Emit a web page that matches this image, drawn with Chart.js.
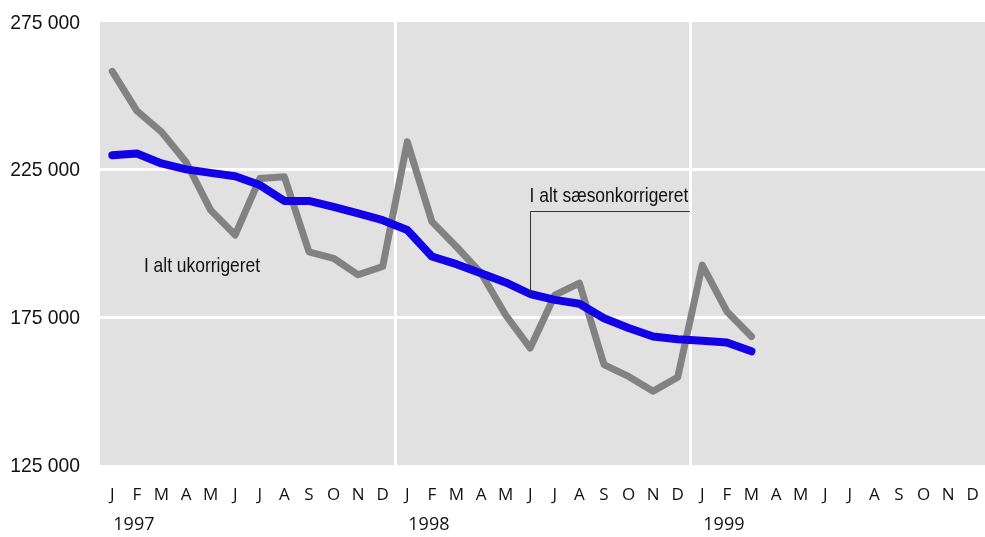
<!DOCTYPE html>
<html>
<head>
<meta charset="utf-8">
<script src="https://cdn.jsdelivr.net/npm/chart.js@4/dist/chart.umd.min.js"></script>
<style>
  html, body { margin: 0; padding: 0; background: #ffffff; }
  canvas { display: block; }
</style>
</head>
<body>
<canvas id="c" width="985" height="537"></canvas>
<script>
// ---- data ----
const months = ['J','F','M','A','M','J','J','A','S','O','N','D',
                'J','F','M','A','M','J','J','A','S','O','N','D',
                'J','F','M','A','M','J','J','A','S','O','N','D'];
const years = ['1997', '1998', '1999'];
const ukorrigeret = [258300, 244900, 237800, 227600, 211300, 202900, 222000, 222600, 197200, 195000, 189400, 192200,
                     234400, 207400, 198900, 190000, 175800, 164600, 182500, 186600, 159000, 155000, 150000, 154700,
                     192700, 177000, 168500];
const saesonkorrigeret = [229900, 230500, 227100, 225100, 223900, 222800, 219800, 214400, 214400, 212400, 210200, 207900,
                          204600, 195600, 193000, 189900, 186800, 182900, 180900, 179600, 174700, 171400, 168500, 167600,
                          167100, 166500, 163500];
const yTicks = [125000, 175000, 225000, 275000];
const labelUkorr = 'I alt ukorrigeret';
const labelSaeson = 'I alt sæsonkorrigeret';

const SANS = "'Liberation Sans', Arial, sans-serif";
const HUMAN = "'Open Sans', 'Noto Sans', 'DejaVu Sans', sans-serif";

function fmt(v) {
  return String(v).replace(/\B(?=(\d{3})+(?!\d))/g, ' ');
}

// draw condensed text (narrow face emulated by horizontal scaling)
function narrowText(ctx, text, x, y, size, sx, align, baseline) {
  ctx.save();
  ctx.translate(x, y);
  ctx.scale(sx, 1);
  ctx.font = size + 'px ' + SANS;
  ctx.textAlign = align;
  ctx.textBaseline = baseline;
  ctx.fillText(text, 0, 0);
  ctx.restore();
}

const bgPlugin = {
  id: 'plotBg',
  beforeDraw(chart) {
    const a = chart.chartArea, ctx = chart.ctx;
    ctx.save();
    ctx.fillStyle = '#e1e1e1';
    ctx.fillRect(a.left, a.top, a.right - a.left, a.bottom - a.top);
    ctx.restore();
  }
};

const annoPlugin = {
  id: 'annos',
  afterDatasetsDraw(chart) {
    const ctx = chart.ctx, xs = chart.scales.x, ys = chart.scales.y;
    ctx.save();
    // leader line for seasonally adjusted series
    const lx = Math.round(xs.getPixelForValue(17)) + 0.5;
    const ly0 = ys.getPixelForValue(saesonkorrigeret[17]);
    const ly1 = Math.round(ys.getPixelForValue(211000)) + 0.5;
    const rx = (xs.getPixelForValue(23) + xs.getPixelForValue(24)) / 2;
    ctx.strokeStyle = '#333';
    ctx.lineWidth = 1;
    ctx.beginPath();
    ctx.moveTo(lx, ly0);
    ctx.lineTo(lx, ly1);
    ctx.lineTo(rx, ly1);
    ctx.stroke();
    ctx.fillStyle = '#111';
    narrowText(ctx, labelSaeson, lx - 1, ly1 - 10, 21, 0.83, 'left', 'alphabetic');
    narrowText(ctx, labelUkorr, xs.getPixelForValue(1) + 7, ys.getPixelForValue(190400), 21, 0.83, 'left', 'alphabetic');
    ctx.restore();
  },
  afterDraw(chart) {
    const ctx = chart.ctx, xs = chart.scales.x, ys = chart.scales.y;
    ctx.save();
    ctx.fillStyle = '#111';
    // y tick labels
    yTicks.forEach(v => {
      narrowText(ctx, fmt(v), 80, ys.getPixelForValue(v) + 1, 21, 0.92, 'right', 'middle');
    });
    // year labels
    ctx.font = "18px " + HUMAN;
    ctx.textAlign = 'left';
    ctx.textBaseline = 'middle';
    years.forEach((y, i) => {
      ctx.fillText(y, xs.getPixelForValue(i * 12) + 1, 525);
    });
    ctx.restore();
  }
};

new Chart(document.getElementById('c'), {
  type: 'line',
  data: {
    labels: months,
    datasets: [
      {
        label: labelUkorr,
        data: ukorrigeret,
        borderColor: '#828282',
        borderWidth: 7,
        pointRadius: 0,
        tension: 0,
        borderCapStyle: 'round',
        borderJoinStyle: 'round',
        order: 1
      },
      {
        label: labelSaeson,
        data: saesonkorrigeret,
        borderColor: '#1400e6',
        borderWidth: 8,
        pointRadius: 0,
        tension: 0,
        borderCapStyle: 'round',
        borderJoinStyle: 'round',
        order: 0
      }
    ]
  },
  options: {
    responsive: false,
    devicePixelRatio: 1,
    animation: false,
    layout: { padding: { top: 22, right: 0, left: 0, bottom: 0 } },
    plugins: {
      legend: { display: false },
      tooltip: { enabled: false },
      title: { display: false }
    },
    scales: {
      x: {
        offset: true,
        grid: {
          offset: true,
          drawTicks: false,
          lineWidth: 3,
          color: (c) => (c.index === 12 || c.index === 24) ? '#ffffff' : 'rgba(0,0,0,0)'
        },
        border: { display: false },
        ticks: {
          autoSkip: false,
          maxRotation: 0,
          padding: 20,
          color: '#111',
          font: { family: HUMAN, size: 17 }
        },
        afterFit(s) { s.height = 72; s.paddingLeft = 0; s.paddingRight = 0; }
      },
      y: {
        min: 125000,
        max: 275000,
        afterBuildTicks(s) { s.ticks = yTicks.map(v => ({ value: v })); },
        grid: {
          drawTicks: false,
          lineWidth: 3,
          color: (c) => (c.tick && (c.tick.value === 175000 || c.tick.value === 225000)) ? '#ffffff' : 'rgba(0,0,0,0)'
        },
        border: { display: false },
        ticks: { display: false },
        afterFit(s) { s.width = 100; s.paddingTop = 0; s.paddingBottom = 0; }
      }
    }
  },
  plugins: [bgPlugin, annoPlugin]
});
</script>
</body>
</html>
